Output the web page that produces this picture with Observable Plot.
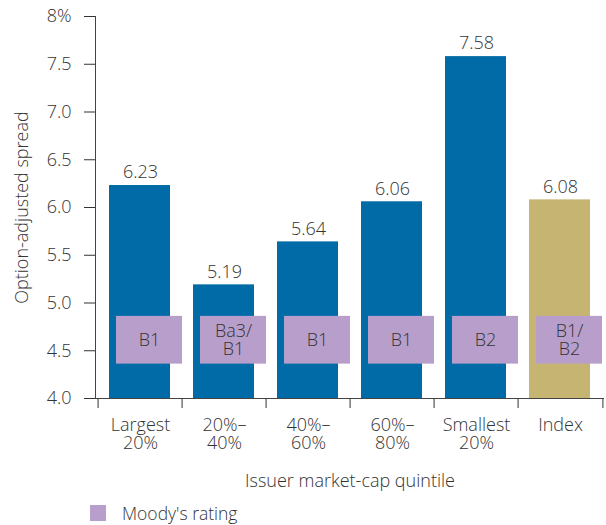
<!DOCTYPE html>
<html>
<head>
<meta charset="utf-8">
<script src="https://cdn.jsdelivr.net/npm/d3@7"></script>
<script src="https://cdn.jsdelivr.net/npm/@observablehq/plot@0.6"></script>
<style>
  body { margin: 0; background: #fff; font-family: "Open Sans", sans-serif; position: relative; width: 606px; height: 525px; overflow: hidden; }
  #legend { position: absolute; left: 90px; top: 502px; display: flex; align-items: center; font-size: 17.5px; color: #333; font-weight: 300; line-height: 22px; }
  #legend .sw { width: 16px; height: 16px; background: #B89ECA; margin-right: 16px; }
</style>
</head>
<body>
<div id="chart"></div>
<div id="legend"><span class="sw"></span><span>Moody's rating</span></div>
<script>
const categories = ["Largest\n20%", "20%–\n40%", "40%–\n60%", "60%–\n80%", "Smallest\n20%", "Index"];
const spreads = [6.23, 5.19, 5.64, 6.06, 7.58, 6.08];
const ratings = ["B1", "Ba3/\nB1", "B1", "B1", "B2", "B1/\nB2"];
const ratingLow = 4.36;
const ratingHigh = 4.86;
const yTicks = [4, 4.5, 5, 5.5, 6, 6.5, 7, 7.5, 8];

const data = categories.map((c, i) => ({cat: c, value: spreads[i], rating: ratings[i]}));

const blue = "#006BA6";
const olive = "#C6B472";
const lavender = "#B89ECA";

const chart = Plot.plot({
  width: 606,
  height: 495,
  marginLeft: 95,
  marginRight: 2,
  marginTop: 16,
  marginBottom: 97,
  style: {fontFamily: "'Open Sans', sans-serif", fontSize: "18px", color: "#333", background: "#fff", fontWeight: 300},
  x: {domain: categories, padding: 0},
  y: {domain: [4, 8]},
  marks: [
    Plot.barY(data.filter(d => d.cat !== "Index"), {x: "cat", y1: 4, y2: "value", fill: blue, insetLeft: 11, insetRight: 12}),
    Plot.barY(data.filter(d => d.cat === "Index"), {x: "cat", y1: 4, y2: "value", fill: olive, insetLeft: 11, insetRight: 12}),
    Plot.barY(data, {x: "cat", y1: ratingLow, y2: ratingHigh, fill: lavender, insetLeft: 18, insetRight: 0}),
    Plot.text(data, {x: "cat", y: (ratingLow + ratingHigh) / 2, text: "rating", dx: 9, fill: "#333", fontSize: 18, lineHeight: 0.97}),
    Plot.text(data, {x: "cat", y: "value", text: d => d.value.toFixed(2), dy: -13, fill: "#333", fontSize: 18}),
    Plot.axisY({ticks: yTicks, tickSize: 11, tickPadding: 13, tickFormat: d => d === 8 ? "8%" : d.toFixed(1), fontSize: 18,
      label: "Option-adjusted spread", labelAnchor: "center", labelOffset: 80, labelArrow: "none"}),
    Plot.axisX({tickSize: 10, dx: -(606 - 97) / 12, tickFormat: () => "", label: null}),
    Plot.axisX({ticks: ["Index"], tickSize: 10, dx: (606 - 97) / 12, tickFormat: () => "", label: null}),
    Plot.axisX({tickSize: 0, tickPadding: 20, fontSize: 18, lineHeight: 1.0, label: "Issuer market-cap quintile", labelAnchor: "center", labelOffset: 88, labelArrow: "none"}),
    Plot.ruleY([4], {stroke: "#444"}),
    Plot.frame({anchor: "left", stroke: "#444"})
  ]
});
document.getElementById("chart").appendChild(chart);
</script>
</body>
</html>
